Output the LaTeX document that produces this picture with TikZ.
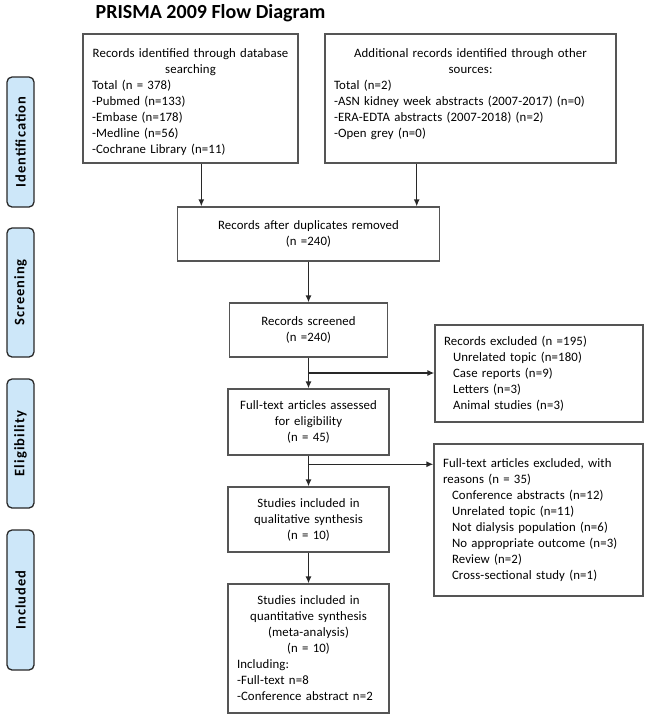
\documentclass[tikz,border=0pt]{standalone}
\usepackage{fontspec}
\setmainfont{Carlito}[LetterSpace = 1]
\newfontfamily\stagefont{Carlito}[LetterSpace = 7]
\newfontfamily\titlefont{Carlito}
\usetikzlibrary{arrows.meta, calc}

\definecolor{stagefill}{RGB}{205,231,249}
\definecolor{boxline}{RGB}{85,85,85}
\definecolor{arrowline}{RGB}{40,40,40}

\begin{document}
\begin{tikzpicture}[%
        x = 1pt,
        y = -1pt,
        line width = 1.3pt,
        > = {Latex[length = 7pt, width = 6pt]},
        box/.style = {
            draw = boxline,
            inner xsep = 9pt,
            inner ysep = 5pt,
            font = \fontsize{12.8}{16}\selectfont,
        },
        stage/.style = {
            draw = arrowline,
            fill = stagefill,
            rounded corners = 5pt,
            rotate = 90,
            minimum height = 27pt,
            font = \stagefont\bfseries\fontsize{14.5}{16}\selectfont,
        },
    ]

        % Fix the size of the page.
        \useasboundingbox (0, 0) rectangle (650, 721);

        % Title.
        \node (title) at (95, 18) [anchor = base west, inner sep = 0pt,
            font = \titlefont\bfseries\fontsize{20}{24}\selectfont]
            {PRISMA 2009 Flow Diagram};

        % Stages on the left.
        \node (ident) at (20.5, 142) [stage, minimum width = 130pt] {Identification};
        \node (screen) at (20.5, 292.5) [stage, minimum width = 129pt] {Screening};
        \node (elig) at (20.5, 443.5) [stage, minimum width = 129pt] {Eligibility};
        \node (incl) at (20.5, 600) [stage, minimum width = 140pt] {Included};

        % Records from the two kinds of sources.
        \node (db) at (190.5, 98.5) [box, align = left, inner xsep = 7pt,
            text width = 201pt, text height = 18pt, text depth = 101pt]
            {{\centering Records identified through database\\ searching\par}%
            \hspace*{2pt}Total (n = 378)\\
            \hspace*{2pt}-Pubmed (n=133)\\
            \hspace*{2pt}-Embase (n=178)\\
            \hspace*{2pt}-Medline (n=56)\\
            \hspace*{2pt}-Cochrane Library (n=11)};
        \node (other) at (470.5, 98.5) [box, align = left, text width = 273pt,
            text height = 18pt, text depth = 101pt]
            {{\centering Additional records identified through other\\ sources:\par}%
            Total (n=2)\\
            -ASN kidney week abstracts (2007-2017) (n=0)\\
            -ERA-EDTA abstracts (2007-2018) (n=2)\\
            -Open grey (n=0)};

        % Main column.
        \node (dup) at (308.5, 234) [box, align = center, text width = 244pt,
            minimum height = 54pt]
            {Records after duplicates removed\\ (n =240)};
        \node (screened) at (308.5, 330) [box, align = center, text width = 140pt,
            minimum height = 54pt]
            {Records screened\\ (n =240)};
        \node (fulltext) at (308.5, 422) [box, align = center, text width = 143pt,
            minimum height = 66pt]
            {Full-text articles assessed\\ for eligibility\\ (n = 45)};
        \node (qual) at (308.5, 519.5) [box, align = center, text width = 143pt,
            minimum height = 65pt]
            {Studies included in\\ qualitative synthesis\\ (n = 10)};
        \node (quant) at (308.5, 648.5) [box, align = left, text width = 143pt,
            minimum height = 129pt]
            {{\centering Studies included in\\ quantitative synthesis\\
            (meta-analysis)\\ (n = 10)\par}%
            Including:\\
            -Full-text n=8\\
            -Conference abstract n=2};

        % Excluded records on the right.
        \node (excl) at (539, 373.5) [box, align = left, text width = 190pt,
            minimum height = 97pt]
            {Records excluded (n =195)\\
            \hspace*{9pt}Unrelated topic (n=180)\\
            \hspace*{9pt}Case reports (n=9)\\
            \hspace*{9pt}Letters (n=3)\\
            \hspace*{9pt}Animal studies (n=3)};
        \node (exclft) at (538.5, 520) [box, align = left, text width = 191pt,
            minimum height = 152pt]
            {Full-text articles excluded, with\\
            reasons (n = 35)\\
            \hspace*{9pt}Conference abstracts (n=12)\\
            \hspace*{9pt}Unrelated topic (n=11)\\
            \hspace*{9pt}Not dialysis population (n=6)\\
            \hspace*{9pt}No appropriate outcome (n=3)\\
            \hspace*{9pt}Review (n=2)\\
            \hspace*{9pt}Cross-sectional study (n=1)};

        % Where the side arrows leave the main column.
        \coordinate (dbout) at ($(db.south west)!0.55!(db.south east)$);
        \coordinate (otherout) at ($(other.south west)!0.316!(other.south east)$);
        \coordinate (split1) at ($(screened.south)!0.5!(fulltext.north)$);
        \coordinate (split2) at ($(fulltext.south)!0.28!(qual.north)$);

        % Draw the arrows.
        \begin{scope}[
            ->,
            draw = arrowline,
        ]
            \draw (dbout) to (dbout |- dup.north);
            \draw (otherout) to (otherout |- dup.north);
            \draw (dup) to (screened);
            \draw (screened) to (fulltext);
            \draw (fulltext) to (qual);
            \draw (qual) to (quant);
            \draw (split1) to (split1 -| excl.west);
            \draw (split2) to (split2 -| exclft.west);
        \end{scope}
    \end{tikzpicture}
\end{document}
